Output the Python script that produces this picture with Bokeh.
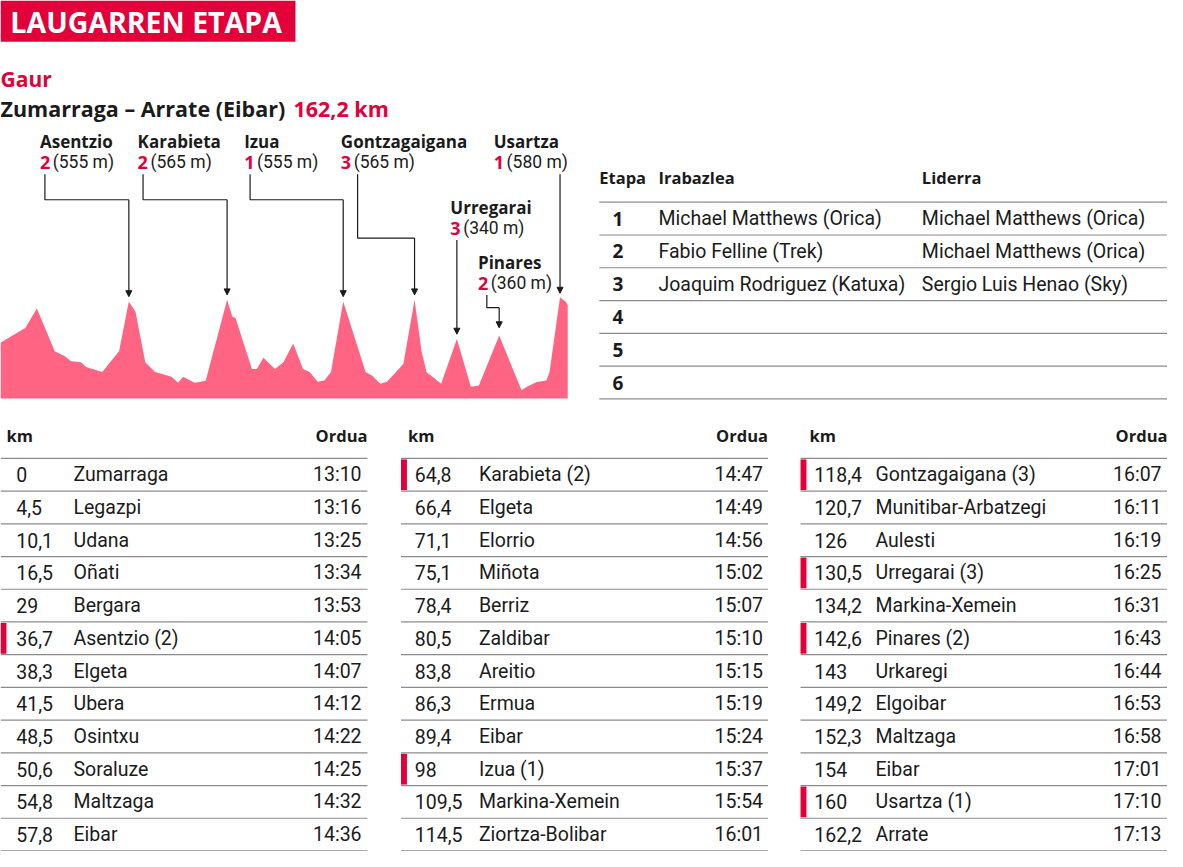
from bokeh.plotting import figure
from bokeh.models import Range1d, Arrow, NormalHead
from bokeh.core.properties import value
from bokeh.embed import file_html
from bokeh.resources import INLINE

# ---------------- data ----------------
PROFILE_KM = [0, 3.8, 7.1, 10.4, 15.5, 18.3, 20.2, 23.0, 24.5, 29.1, 33.9, 36.7, 38.6, 41.4, 44.2,
              48.9, 50.8, 52.2, 55.5, 57.3, 58.7, 64.8, 66.3, 67.2, 71.9, 73.3, 75.2, 78.5, 80.9,
              83.7, 86.5, 88.4, 90.7, 92.6, 94.5, 98.0, 101.6, 104.4, 106.3, 108.6, 110.5, 115.2,
              118.4, 120.4, 121.8, 126.0, 130.5, 134.5, 136.8, 142.6, 149.0, 150.4, 153.3, 156.1,
              157.0, 160.0, 161.7, 162.2]
PROFILE_M = [319, 365, 403, 515, 271, 243, 214, 208, 180, 152, 271, 555, 496, 208, 152,
             124, 90, 124, 90, 96, 103, 565, 468, 461, 169, 169, 234, 169, 208,
             315, 169, 152, 96, 103, 152, 555, 328, 152, 131, 84, 96, 197,
             565, 271, 152, 84, 340, 67, 75, 360, 47, 66, 94, 103,
             152, 580, 552, 534]

CLIMB_NAMES = ["Asentzio", "Karabieta", "Izua", "Gontzagaigana", "Urregarai", "Pinares", "Usartza"]
CLIMB_CAT = ["2", "2", "1", "3", "3", "2", "1"]
CLIMB_ALT = [555, 565, 555, 565, 340, 360, 580]
CLIMB_KM = [36.7, 64.8, 98.0, 118.4, 130.5, 142.6, 160.0]

STAGES = ["1", "2", "3", "4", "5", "6"]
WINNERS = ["Michael Matthews (Orica)", "Fabio Felline (Trek)", "Joaquim Rodriguez (Katuxa)", "", "", ""]
LEADERS = ["Michael Matthews (Orica)", "Michael Matthews (Orica)", "Sergio Luis Henao (Sky)", "", "", ""]

ROUTE_KM = ["0", "4,5", "10,1", "16,5", "29", "36,7", "38,3", "41,5", "48,5", "50,6", "54,8", "57,8",
            "64,8", "66,4", "71,1", "75,1", "78,4", "80,5", "83,8", "86,3", "89,4", "98", "109,5", "114,5",
            "118,4", "120,7", "126", "130,5", "134,2", "142,6", "143", "149,2", "152,3", "154", "160", "162,2"]
ROUTE_PLACE = ["Zumarraga", "Legazpi", "Udana", "Oñati", "Bergara", "Asentzio (2)", "Elgeta", "Ubera",
               "Osintxu", "Soraluze", "Maltzaga", "Eibar",
               "Karabieta (2)", "Elgeta", "Elorrio", "Miñota", "Berriz", "Zaldibar", "Areitio", "Ermua",
               "Eibar", "Izua (1)", "Markina-Xemein", "Ziortza-Bolibar",
               "Gontzagaigana (3)", "Munitibar-Arbatzegi", "Aulesti", "Urregarai (3)", "Markina-Xemein",
               "Pinares (2)", "Urkaregi", "Elgoibar", "Maltzaga", "Eibar", "Usartza (1)", "Arrate"]
ROUTE_TIME = ["13:10", "13:16", "13:25", "13:34", "13:53", "14:05", "14:07", "14:12", "14:22", "14:25", "14:32", "14:36",
              "14:47", "14:49", "14:56", "15:02", "15:07", "15:10", "15:15", "15:19", "15:24", "15:37", "15:54", "16:01",
              "16:07", "16:11", "16:19", "16:25", "16:31", "16:43", "16:44", "16:53", "16:58", "17:01", "17:10", "17:13"]
ROUTE_CLIMB = [False, False, False, False, False, True, False, False, False, False, False, False,
               True, False, False, False, False, False, False, False, False, True, False, False,
               True, False, False, True, False, True, False, False, False, False, True, False]

# ---------------- style / layout ----------------
RED = "#E3003A"
PINK = "#FF6482"
DARK = "#1b1b1b"
RULE = "#8c8c8c"
FONT = "Roboto"
BFONT = "Open Sans"

W_REF, H_REF = 1183, 867
KM_PX = 575 / 162.2      # profile horizontal scale (ref px per km)
M_PX = 0.178             # profile vertical scale (ref px per metre)
BASE_Y = 405.5           # ref y of 0 m

p = figure(width=1167, height=851, x_range=Range1d(0, W_REF), y_range=Range1d(H_REF, 0),
           output_backend="svg", toolbar_location=None, min_border=0,
           x_axis_type=None, y_axis_type=None)
p.grid.visible = False
p.outline_line_color = None
p.background_fill_color = "white"
p.border_fill_color = "white"

p.extra_x_ranges = {"km": Range1d(0, W_REF / KM_PX)}
p.extra_y_ranges = {"elev": Range1d((BASE_Y - H_REF) / M_PX, BASE_Y / M_PX)}


def txt(xs, ys, ts, size, color=DARK, bold=False, align="left", font=None):
    if font is None:
        font = BFONT if bold else FONT
    p.text(x=list(xs), y=list(ys), text=list(ts), text_font=value(font),
           text_font_size=f"{size}px", text_font_style="bold" if bold else "normal",
           text_color=color, text_align=align, text_baseline="middle")


# ---- title block ----
p.quad(left=[0], right=[299], top=[0], bottom=[42], fill_color=RED, line_color=None)
txt([10], [22], ["LAUGARREN ETAPA"], 28.5, color="white", bold=True)
txt([0], [80], ["Gaur"], 21, color=RED, bold=True)
txt([0], [110], ["Zumarraga – Arrate (Eibar)"], 21.5, bold=True)
txt([297], [110], ["162,2 km"], 21.5, color=RED, bold=True)

# ---- profile ----
p.varea(x=PROFILE_KM, y1=[0] * len(PROFILE_KM), y2=PROFILE_M, fill_color=PINK,
        x_range_name="km", y_range_name="elev")

LABEL_X = [40, 139, 247, 345, 456, 484, 500]
LABEL_Y = [144, 144, 144, 144, 211, 267, 144]
CONN_X = [45, 144.5, 253, 362, None, 493, None]
CONN_ELBOW = [203, 203, 203, 242, None, 313, None]
ARROW_GAP = [5, 5, 5, 5, 5, 8, 4]

txt(LABEL_X, LABEL_Y, CLIMB_NAMES, 17, bold=True)
txt(LABEL_X, [y + 21 for y in LABEL_Y], CLIMB_CAT, 18, color=RED, bold=True)
txt([x + 13 for x in LABEL_X], [y + 21 for y in LABEL_Y],
    [f"({a} m)" for a in CLIMB_ALT], 17.5)

xs_lines, ys_lines = [], []
for i in range(len(CLIMB_NAMES)):
    px = CLIMB_KM[i] * KM_PX
    tip = BASE_Y - CLIMB_ALT[i] * M_PX - ARROW_GAP[i]
    y0 = LABEL_Y[i] + 33
    if CONN_X[i] is not None:
        xs_lines.append([CONN_X[i], CONN_X[i], px])
        ys_lines.append([y0, CONN_ELBOW[i], CONN_ELBOW[i]])
        start_y = CONN_ELBOW[i]
    else:
        start_y = y0
    p.add_layout(Arrow(x_start=px, y_start=start_y, x_end=px, y_end=tip,
                       line_color=DARK, line_width=1.2,
                       end=NormalHead(size=6, fill_color=DARK, line_color=DARK)))
p.multi_line(xs=xs_lines, ys=ys_lines, line_color=DARK, line_width=1.2)

# ---- winners table ----
T_TOP = 205.5
T_ROW = 33.4
txt([607, 667, 934], [180, 180, 180], ["Etapa", "Irabazlea", "Liderra"], 16.5, bold=True)
p.segment(x0=[607] * 7, x1=[W_REF] * 7,
          y0=[T_TOP + i * T_ROW for i in range(7)], y1=[T_TOP + i * T_ROW for i in range(7)],
          line_color=RULE, line_width=1.2)
row_y = [T_TOP + (i + 0.5) * T_ROW for i in range(len(STAGES))]
txt([626] * len(STAGES), row_y, STAGES, 19, bold=True, align="center")
txt([667] * len(STAGES), row_y, WINNERS, 19.5)
txt([934] * len(STAGES), row_y, LEADERS, 19.5)

# ---- route tables ----
R_TOP = 466.5
R_ROW = 33.33
COL_X0 = [0, 406, 811]
COL_X1 = [372, 778, 1183]
KM_X = [16, 420, 825]
NAME_X = [74, 485, 887]
TIME_X = [366, 773, 1177]
HEAD_X = [6, 413, 820]
N = 12
for c in range(3):
    sl = slice(c * N, (c + 1) * N)
    kms, places, times, climbs = ROUTE_KM[sl], ROUTE_PLACE[sl], ROUTE_TIME[sl], ROUTE_CLIMB[sl]
    txt([HEAD_X[c]], [443], ["km"], 16.5, bold=True)
    txt([COL_X1[c]], [443], ["Ordua"], 16.5, bold=True, align="right")
    ys = [R_TOP + i * R_ROW for i in range(N + 1)]
    p.segment(x0=[COL_X0[c]] * (N + 1), x1=[COL_X1[c]] * (N + 1), y0=ys, y1=ys,
              line_color=RULE, line_width=1.2)
    cy = [R_TOP + (i + 0.5) * R_ROW for i in range(N)]
    txt([KM_X[c]] * N, cy, kms, 19.5)
    txt([NAME_X[c]] * N, cy, places, 19.5)
    txt([TIME_X[c]] * N, cy, times, 19.5, align="right")
    mk = [i for i in range(N) if climbs[i]]
    p.quad(left=[COL_X0[c]] * len(mk), right=[COL_X0[c] + 6] * len(mk),
           top=[R_TOP + i * R_ROW + 1 for i in mk], bottom=[R_TOP + (i + 1) * R_ROW - 1 for i in mk],
           fill_color=RED, line_color=None)

open("out.html", "w").write(file_html(p, INLINE))
